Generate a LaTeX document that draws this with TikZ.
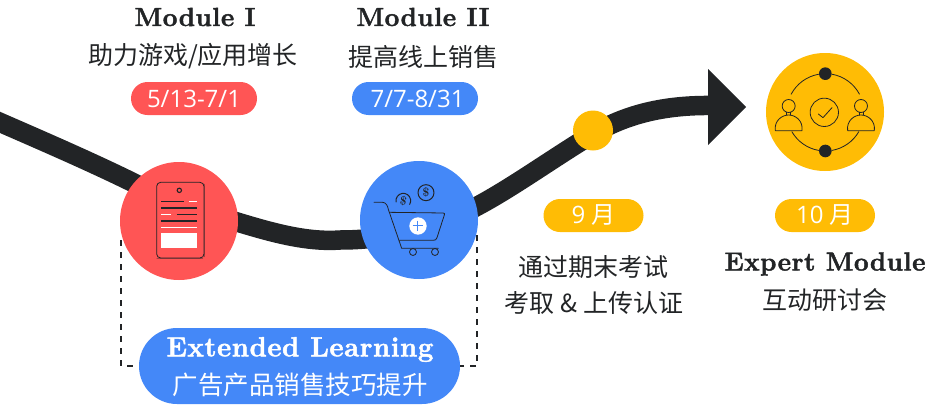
\documentclass[tikz,border=0pt]{standalone}
\usepackage{fontspec}
\usetikzlibrary{backgrounds}
\setmainfont{Latin Modern Roman}
\newfontfamily\headfont[BoldFeatures={FakeBold=1.8,LetterSpace=2}]{Latin Modern Roman}
\newfontfamily\cjk{Noto Sans CJK SC}
\newfontfamily\pillfont{Open Sans}
\definecolor{ink}{HTML}{222426}
\definecolor{redc}{HTML}{FF5555}
\definecolor{bluec}{HTML}{4488F8}
\definecolor{yellc}{HTML}{FFBC05}
\tikzset{
  disc/.style={circle,inner sep=0pt,minimum size=#1},
  head/.style={inner sep=0pt,text=ink,font=\fontsize{26}{28}\headfont\bfseries},
  sub/.style={inner sep=0pt,text=ink,font=\fontsize{25}{27}\selectfont\cjk},
  pill/.style={rounded corners=16.5pt,inner sep=0pt,minimum height=33pt,minimum width=#1,text=white,font=\fontsize{24}{26}\selectfont\pillfont},
  icon/.style={ink,line width=.8pt,line cap=round,line join=round},
  dashline/.style={ink,line width=1.5pt,dash pattern=on 6pt off 6pt},
}
\begin{document}
\begin{tikzpicture}[x=1pt,y=-1pt]
\useasboundingbox (0,0) rectangle (929,407);
% discs
\node[disc=118pt,fill=redc] (red) at (179,221) {};
\node[disc=118pt,fill=bluec] (blue) at (419,220) {};
\node[disc=40pt,fill=yellc] (dot) at (593,130.5) {};
\node[disc=118pt,fill=yellc] (yel) at (825,112) {};
\coordinate (start) at (-10,118);
\coordinate (passred) at (179,207);
\coordinate (low) at (340,240);
\coordinate (passblue) at (419,228);
\coordinate (passdot) at (593,134);
\coordinate (tail) at (712,105.5);
\coordinate (apex) at (746,107);
\coordinate (barbT) at (708,69);
\coordinate (barbB) at (708,145);
\begin{scope}[on background layer]
\draw[ink,line width=19.5pt] (start) .. controls (40,140) and (130,178) .. (passred)
  .. controls (225,214) and (285,244) .. (low)
  .. controls (370,240) and (395,236) .. (passblue)
  .. controls (470,220) and (530,172) .. (passdot)
  .. controls (630,112) and (670,105) .. (tail);
\fill[ink] (barbT) -- (apex) -- (barbB) -- cycle;
\draw[dashline] (121,240) -- (121,366) -- (140,366);
\draw[dashline] (477,235) -- (477,366) -- (460,366);
\end{scope}
% phone icon
\begin{scope}[shift={(100,150)},x=.3333pt,y=-.3333pt]
\draw[icon,redc!60!ink,line width=1pt] (171,326) -- (308,326) (314,103) -- (314,320);
\draw[icon,rounded corners=4pt] (170,97) rectangle (312,324);
\draw[icon,line width=1.1pt] (238,121) circle (6.5);
\foreach \a/\b/\c in {184/251/155,184/291/174,231/291/193,184/291/213}
  \draw[ink,line width=1.5pt] (\a,\c) -- (\b,\c);
\foreach \a/\b/\c in {267/291/155,184/214/193,184/291/232}
  \draw[white,line width=1.5pt] (\a,\c) -- (\b,\c);
\fill[white] (184,249) rectangle (291,295);
\end{scope}
% cart icon
\begin{scope}[shift={(340,150)},x=.3333pt,y=-.3333pt]
\draw[icon] (102,157) -- (128,157) .. controls (138,157) and (143,168) .. (145,178) -- (185,295) -- (295,295);
\draw[icon] (150,187) -- (310,189) .. controls (314,189) and (314,192) .. (313,195) -- (291,263) .. controls (289,269) and (286,271) .. (280,271) -- (178,271);
\draw[icon] (219,306) circle (10.5) (285,306) circle (10.5);
\draw[icon,line width=1pt] (258,128) circle (24);
\draw[icon,line width=1pt] (168.3,155.8) arc (170:390:22);
\node[inner sep=0pt,text=ink,font=\fontsize{12}{12}\selectfont\bfseries] (dollarA) at (258,128) {\$};
\node[inner sep=0pt,text=ink,rotate=-10,font=\fontsize{12}{12}\selectfont\bfseries] (dollarB) at (190,153) {\$};
\fill[white] (234,228) circle (26);
\draw[bluec,line width=1pt] (234,212) -- (234,244) (218,228) -- (250,228);
\end{scope}
% people icon
\begin{scope}[shift={(690,40)},x=.3333pt,y=-.3333pt]
\coordinate (ring) at (406,217);
\draw[icon] (ring) ++(-100:116) arc (-100:-152:116);
\draw[icon] (ring) ++(-80:116) arc (-80:-28:116);
\draw[icon] (ring) ++(150:116) arc (150:100:116);
\draw[icon] (ring) ++(30:116) arc (30:80:116);
\fill[ink] (406,101) circle (19) (406,333) circle (19);
\draw[icon] (403,217) circle (42.5);
\draw[icon] (385,222) -- (399,233) -- (426,203);
\foreach \x in {296,513}{
  \draw[icon] (\x,198) circle (19.5);
  \draw[icon] (\x-6,217) -- (\x-6,225) (\x+6,217) -- (\x+6,225);
  \draw[icon] (\x-40,272) .. controls (\x-44,242) and (\x-20,225) .. (\x,225) .. controls (\x+20,225) and (\x+44,242) .. (\x+40,272) -- cycle;
}
\end{scope}
% texts
\node[head] (m1) at (195,17) {Module I};
\node[sub] (m1s) at (193,56.5) {助力游戏/应用增长};
\node[pill=126pt,fill=redc] (p1) at (194,98.5) {5/13-7/1};
\node[head] (m2) at (423,17) {Module II};
\node[sub] (m2s) at (423,56.5) {提高线上销售};
\node[pill=126pt,fill=bluec] (p2) at (415,98.5) {\hspace{5pt}7/7-8/31};
\node[pill=100pt,fill=yellc] (p3) at (593.5,215.5) {9 \cjk 月};
\node[pill=100pt,fill=yellc] (p4) at (825,215.5) {10 \cjk 月};
\node[sub] (t1) at (593,267.5) {通过期末考试};
\node[sub] (t2) at (594,303) {考取 \& 上传认证};
\node[head] (t3) at (825,264) {Expert Module};
\node[sub] (t4) at (825,300.5) {互动研讨会};
\node[fill=bluec,rounded corners=38pt,minimum width=321pt,minimum height=76pt,inner sep=0pt] (ext) at (299.5,366) {};
\node[head,text=white,font=\fontsize{27.6}{29}\headfont\bfseries] (e1) at (300,349.5) {Extended Learning};
\node[sub,text=white,font=\fontsize{25.5}{27}\selectfont\cjk] (e2) at (300,385) {广告产品销售技巧提升};
\end{tikzpicture}
\end{document}
